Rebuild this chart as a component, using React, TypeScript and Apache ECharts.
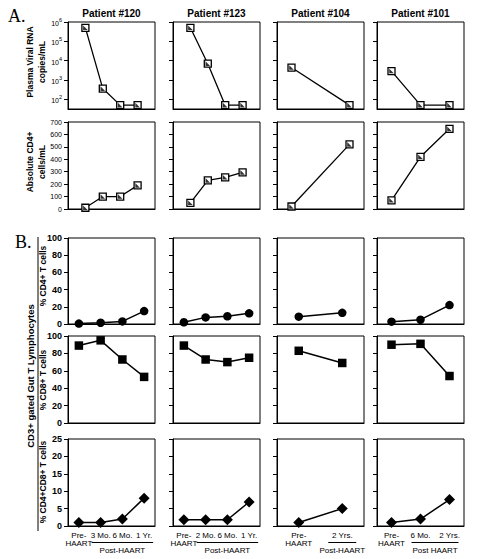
import React, { useEffect, useRef } from 'react';
import * as echarts from 'echarts';

// ---------- data ----------
const patientNames = ['Patient #120', 'Patient #123', 'Patient #104', 'Patient #101'];

const timeLabels120 = ['Pre-\nHAART', '3 Mo.', '6 Mo.', '1 Yr.'];
const timeLabels123 = ['Pre-\nHAART', '2 Mo.', '6 Mo.', '1 Yr.'];
const timeLabels104 = ['Pre-\nHAART', '2 Yrs.'];
const timeLabels101 = ['Pre-\nHAART', '6 Mo.', '2 Yrs.'];
const postLabels = ['Post-HAART', 'Post-HAART', 'Post-HAART', 'Post HAART'];

// Plasma viral RNA (copies/mL)
const viralRNA120 = [500000, 360, 50, 50];
const viralRNA123 = [500000, 7000, 50, 50];
const viralRNA104 = [4400, 50];
const viralRNA101 = [2900, 50, 50];

// Absolute CD4+ (cells/mL)
const absCD4_120 = [10, 100, 100, 190];
const absCD4_123 = [50, 230, 255, 295];
const absCD4_104 = [20, 520];
const absCD4_101 = [70, 420, 645];

// % CD4+ T cells (gut)
const pctCD4_120 = [0.5, 1.5, 3, 15];
const pctCD4_123 = [2, 7.7, 9, 12.4];
const pctCD4_104 = [8.5, 13];
const pctCD4_101 = [2.7, 5, 22];

// % CD8+ T cells (gut)
const pctCD8_120 = [89, 95, 73, 53];
const pctCD8_123 = [89, 73, 70, 75];
const pctCD8_104 = [83, 69];
const pctCD8_101 = [90, 91, 54];

// % CD4+CD8+ T cells (gut)
const pctDP_120 = [1, 1, 2, 8];
const pctDP_123 = [1.8, 1.8, 1.8, 6.9];
const pctDP_104 = [1, 5];
const pctDP_101 = [1, 2, 7.6];

const viralExponents = [2, 3, 4, 5, 6];

// ---------- layout ----------
const SANS = '"Liberation Sans", Arial, Helvetica, sans-serif';
const SERIF = '"Liberation Serif", "Times New Roman", serif';
const colLeft = [68, 173, 277, 377];
const colW = 87;
const rows = [
  { top: 22, h: 87 },
  { top: 122, h: 87 },
  { top: 238, h: 86 },
  { top: 336, h: 87 },
  { top: 439, h: 87 },
];

const panels = [
  { labels: timeLabels120, viral: viralRNA120, cd4: absCD4_120, p4: pctCD4_120, p8: pctCD8_120, dp: pctDP_120, aPos: [1, 2, 3, 4], aRange: [0, 5] },
  { labels: timeLabels123, viral: viralRNA123, cd4: absCD4_123, p4: pctCD4_123, p8: pctCD8_123, dp: pctDP_123, aPos: [1, 2, 3, 4], aRange: [0, 5] },
  { labels: timeLabels104, viral: viralRNA104, cd4: absCD4_104, p4: pctCD4_104, p8: pctCD8_104, dp: pctDP_104, aPos: [1, 3], aRange: [0.5, 3.5] },
  { labels: timeLabels101, viral: viralRNA101, cd4: absCD4_101, p4: pctCD4_101, p8: pctCD8_101, dp: pctDP_101, aPos: [1, 2, 3], aRange: [0.5, 3.5] },
];

function buildOption() {
  const grid: any[] = [];
  const xAxis: any[] = [];
  const yAxis: any[] = [];
  const series: any[] = [];
  const graphic: any[] = [];

  const blackLine = { lineStyle: { color: '#000', width: 1 } };

  rows.forEach((r, ri) => {
    colLeft.forEach((l, ci) => {
      const gi = ri * 4 + ci;
      const p = panels[ci];
      grid.push({
        left: l, top: r.top, width: colW, height: r.h,
        show: true, borderColor: '#000', borderWidth: 1,
        backgroundColor: 'transparent',
        containLabel: false, outerBoundsMode: 'none',
      });
      const isA = ri < 2;
      if (isA) {
        xAxis.push({
          gridIndex: gi, type: 'value', min: p.aRange[0], max: p.aRange[1],
          axisLine: { show: true, onZero: false, ...blackLine },
          axisTick: { show: false }, axisLabel: { show: false }, splitLine: { show: false },
        });
      } else {
        xAxis.push({
          gridIndex: gi, type: 'category', data: p.labels, boundaryGap: true,
          axisLine: { show: true, onZero: false, ...blackLine },
          axisTick: { show: false },
          axisLabel: {
            show: ri === 4, interval: 0, hideOverlap: false, margin: 5,
            fontSize: 8, lineHeight: 8.5, color: '#000', fontFamily: SANS,
          },
          splitLine: { show: false },
        });
      }
      const yBase: any = {
        gridIndex: gi, type: 'value',
        axisLine: { show: true, onZero: false, ...blackLine },
        axisTick: { show: true, inside: false, length: 4, lineStyle: { color: '#000', width: 1 } },
        splitLine: { show: false },
      };
      if (ri === 0) {
        yAxis.push({
          ...yBase, min: 1.5, max: 6,
          axisTick: { ...yBase.axisTick, customValues: viralExponents },
          axisLabel: {
            show: ci === 0, customValues: viralExponents, margin: 6,
            formatter: (v: number) => `{b|10}{s|${Math.round(v)}}`,
            rich: {
              b: { fontSize: 7, fontFamily: SANS, color: '#000', verticalAlign: 'bottom', lineHeight: 10 },
              s: { fontSize: 5.5, fontFamily: SANS, color: '#000', verticalAlign: 'top', lineHeight: 10 },
            },
          },
        });
      } else if (ri === 1) {
        yAxis.push({
          ...yBase, min: 0, max: 700, interval: 100,
          axisLabel: { show: ci === 0, margin: 6, fontSize: 7, color: '#000', fontFamily: SANS },
        });
      } else {
        const mx = ri === 4 ? 25 : 100;
        const iv = ri === 4 ? 5 : 20;
        yAxis.push({
          ...yBase, min: 0, max: mx, interval: iv,
          axisLabel: { show: ci === 0, margin: 6, fontSize: 9, fontWeight: 'bold', color: '#000', fontFamily: SANS },
        });
      }

      // series
      if (ri === 0 || ri === 1) {
        const vals = ri === 0 ? p.viral.map((v) => Math.log10(v)) : p.cd4;
        const d = vals.map((v, i) => [p.aPos[i], v]);
        series.push({
          type: 'line', xAxisIndex: gi, yAxisIndex: gi, data: d,
          symbol: 'rect', symbolSize: 7, showAllSymbol: true,
          lineStyle: { color: '#000', width: 1.3 },
          itemStyle: { color: '#fff', borderColor: '#000', borderWidth: 1.3 },
          z: 3,
        });
        series.push({
          type: 'scatter', xAxisIndex: gi, yAxisIndex: gi, data: d,
          symbol: 'path://M0 0L0 10L10 10Z', symbolSize: 4.6,
          itemStyle: { color: '#000' }, z: 4,
        });
      } else {
        const vals = ri === 2 ? p.p4 : ri === 3 ? p.p8 : p.dp;
        const sym = ri === 2 ? 'circle' : ri === 3 ? 'rect' : 'diamond';
        const sz = ri === 2 ? 8.5 : ri === 3 ? 8.5 : 11;
        series.push({
          type: 'line', xAxisIndex: gi, yAxisIndex: gi, data: vals,
          symbol: sym, symbolSize: sz, showAllSymbol: true, clip: false,
          lineStyle: { color: '#000', width: 1.5 },
          itemStyle: { color: '#000' },
        });
      }

      // Post-HAART bracket under bottom row
      if (ri === 4) {
        const n = p.labels.length;
        const c = (i: number) => l + (colW * (i + 0.5)) / n;
        const mid = (c(1) + c(n - 1)) / 2;
        const x1 = Math.min(c(1) - 9, mid - 14);
        const x2 = Math.max(c(n - 1) + 9, mid + 14);
        graphic.push({
          type: 'line', shape: { x1, y1: 542.5, x2, y2: 542.5 },
          style: { stroke: '#000', lineWidth: 1 },
        });
        graphic.push({
          type: 'text', x: (x1 + x2) / 2, y: 550.5,
          style: { text: postLabels[ci], fontSize: 8, fontFamily: SANS, fill: '#000', align: 'center', verticalAlign: 'middle' },
        });
      }
    });
  });

  // titles
  patientNames.forEach((name, ci) => {
    graphic.push({
      type: 'text', x: colLeft[ci] + colW / 2, y: 13,
      style: { text: name, fontSize: 10, fontWeight: 'bold', fontFamily: SANS, fill: '#000', align: 'center', verticalAlign: 'middle' },
    });
  });

  // section letters
  graphic.push({ type: 'text', x: 8, y: 16, style: { text: 'A.', fontSize: 18, fontFamily: SERIF, fill: '#000', align: 'left', verticalAlign: 'middle' } });
  graphic.push({ type: 'text', x: 15, y: 242, style: { text: 'B.', fontSize: 18, fontFamily: SERIF, fill: '#000', align: 'left', verticalAlign: 'middle' } });

  const rot = (text: string, x: number, y: number, size: number, lh?: number) => ({
    type: 'text', x, y, rotation: Math.PI / 2,
    style: { text, fontSize: size, fontWeight: 'bold', fontFamily: SANS, fill: '#000', align: 'center', verticalAlign: 'middle', lineHeight: lh || size + 2 },
  });
  graphic.push(rot('Plasma Viral RNA\ncopies/mL', 36, 62, 8.5, 11.5));
  graphic.push(rot('Absolute CD4+\ncells/mL', 36, 162, 8.5, 11.5));
  graphic.push(rot('% CD4+ T cells', 43, 276, 8.5));
  graphic.push(rot('% CD8+ T cells', 43, 380, 8.5));
  graphic.push(rot('% CD4+CD8+ T cells', 43, 482, 8.5));
  graphic.push(rot('CD3+ gated Gut T Lymphocytes', 30, 376, 9.5));
  graphic.push({ type: 'line', shape: { x1: 38, y1: 237, x2: 38, y2: 531 }, style: { stroke: '#000', lineWidth: 1 } });

  return {
    animation: false,
    backgroundColor: '#fff',
    grid, xAxis, yAxis, series, graphic,
  };
}

export default function App() {
  const ref = useRef<HTMLDivElement>(null);
  useEffect(() => {
    if (!ref.current) return;
    const chart = echarts.init(ref.current, undefined, { renderer: 'svg' });
    chart.setOption(buildOption() as any);
    return () => chart.dispose();
  }, []);
  return (
    <div
      ref={ref}
      style={{ position: 'absolute', left: 0, top: 0, width: 477, height: 559, background: '#fff' }}
    />
  );
}
